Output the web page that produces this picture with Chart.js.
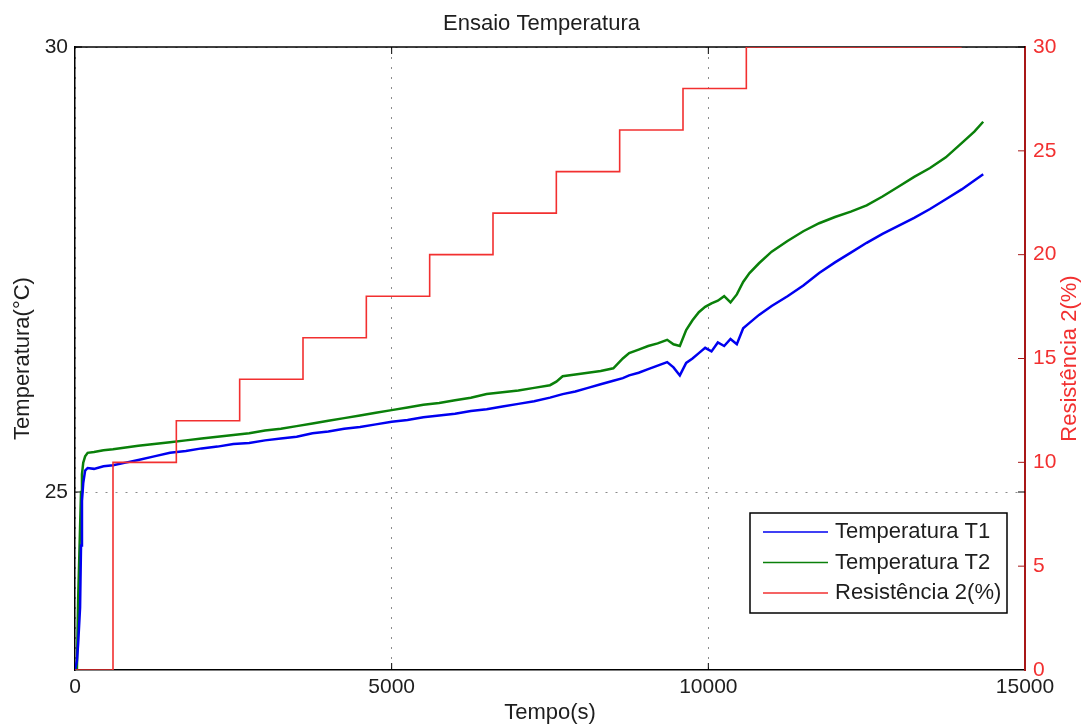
<!DOCTYPE html>
<html>
<head>
<meta charset="utf-8">
<title>Ensaio Temperatura</title>
<script src="https://cdn.jsdelivr.net/npm/chart.js@4"></script>
<style>
  html, body { margin: 0; padding: 0; background: #fff; }
  #wrap { width: 1083px; height: 726px; }
</style>
</head>
<body>
<div id="wrap"><canvas id="ensaioChart" width="1083" height="726"></canvas></div>
<script>
// Tempo de ensaio (s), comum as duas leituras de temperatura
const tempo = [0, 30, 50, 80, 95, 110, 130, 160, 200, 300, 450, 600, 800, 1000, 1250, 1500, 1750,
  2000, 2250, 2500, 2750, 3000, 3250, 3500, 3750, 4000, 4250, 4500, 4750, 5000, 5250, 5500, 5750,
  6000, 6250, 6500, 6750, 7000, 7250, 7500, 7600, 7700, 7900, 8100, 8300, 8500, 8650, 8750, 8900,
  9050, 9200, 9350, 9450, 9550, 9650, 9750, 9850, 9950, 10050, 10150, 10250, 10350, 10450, 10550,
  10650, 10800, 11000, 11250, 11500, 11750, 12000, 12250, 12500, 12750, 13000, 13250, 13500,
  13750, 14000, 14200, 14340];

const temperaturaT1 = [23.0, 23.1, 23.3, 23.7, 24.4, 24.9, 25.1, 25.24, 25.27, 25.26, 25.29, 25.30,
  25.33, 25.36, 25.40, 25.44, 25.46, 25.49, 25.51, 25.54, 25.55, 25.58, 25.60, 25.62, 25.66, 25.68,
  25.71, 25.73, 25.76, 25.79, 25.81, 25.84, 25.86, 25.88, 25.91, 25.93, 25.96, 25.99, 26.02, 26.06,
  26.08, 26.10, 26.13, 26.17, 26.21, 26.25, 26.28, 26.31, 26.34, 26.38, 26.42, 26.46, 26.40, 26.31,
  26.45, 26.50, 26.56, 26.62, 26.58, 26.68, 26.64, 26.72, 26.66, 26.84, 26.90, 26.99, 27.09, 27.20,
  27.32, 27.46, 27.58, 27.69, 27.80, 27.90, 27.99, 28.08, 28.18, 28.29, 28.40, 28.50, 28.57];

const temperaturaT2 = [23.0, 23.0, 23.8, 24.6, 25.0, 25.2, 25.33, 25.40, 25.44, 25.45, 25.47, 25.48,
  25.50, 25.52, 25.54, 25.56, 25.58, 25.60, 25.62, 25.64, 25.66, 25.69, 25.71, 25.74, 25.77, 25.80,
  25.83, 25.86, 25.89, 25.92, 25.95, 25.98, 26.00, 26.03, 26.06, 26.10, 26.12, 26.14, 26.17, 26.20,
  26.24, 26.30, 26.32, 26.34, 26.36, 26.39, 26.50, 26.56, 26.60, 26.64, 26.67, 26.71, 26.66, 26.64,
  26.82, 26.93, 27.02, 27.08, 27.12, 27.15, 27.20, 27.13, 27.22, 27.36, 27.46, 27.57, 27.70, 27.82,
  27.93, 28.02, 28.09, 28.15, 28.22, 28.32, 28.43, 28.54, 28.64, 28.76, 28.92, 29.05, 29.16];

// Degraus da resistencia 2 (%)
const tempoResistencia = [0, 600, 1600, 2600, 3600, 4600, 5600, 6600, 7600, 8600, 9600, 10600, 14000];
const resistencia2 = [0, 10, 12, 14, 16, 18, 20, 22, 24, 26, 28, 30, 30];

const ticksTempo = [0, 5000, 10000, 15000];
const ticksTemperatura = [25, 30];
const ticksResistencia = [0, 5, 10, 15, 20, 25, 30];

const pares = (xs, ys) => xs.map((x, i) => ({ x: x, y: ys[i] }));

const FONTE = "'Liberation Sans', Arial, Helvetica, sans-serif";
const TEXTO = '#1e1e1e';
const VERMELHO = '#f23030';
const EIXO_VERMELHO = '#a81818';

Chart.defaults.font.family = FONTE;
Chart.defaults.color = TEXTO;

// moldura superior e marcas de escala voltadas para dentro (estilo MATLAB)
const moldura = {
  id: 'moldura',
  beforeDatasetsDraw(chart) {
    const { ctx, chartArea: a, scales } = chart;
    const len = 7;
    ctx.save();
    ctx.strokeStyle = '#000';
    ctx.lineWidth = 1.5;
    ctx.beginPath();
    ctx.moveTo(a.left, a.top);
    ctx.lineTo(a.right, a.top);
    ctx.stroke();

    ctx.lineWidth = 1;
    ctx.beginPath();
    ticksTempo.slice(1, -1).forEach(v => {
      const x = scales.x.getPixelForValue(v);
      ctx.moveTo(x, a.bottom); ctx.lineTo(x, a.bottom - len);
      ctx.moveTo(x, a.top); ctx.lineTo(x, a.top + len);
    });
    ticksTemperatura.forEach(v => {
      const y = scales.y.getPixelForValue(v);
      ctx.moveTo(a.left, y); ctx.lineTo(a.left + len, y);
      ctx.moveTo(a.right, y); ctx.lineTo(a.right - len, y);
    });
    ctx.stroke();

    ctx.strokeStyle = EIXO_VERMELHO;
    ctx.beginPath();
    ticksResistencia.slice(1, -1).forEach(v => {
      const y = scales.y2.getPixelForValue(v);
      ctx.moveTo(a.right, y); ctx.lineTo(a.right - len, y);
    });
    ctx.stroke();
    ctx.restore();
  },
  afterDraw(chart) {
    // rotulo do eixo direito, lido de baixo para cima
    const { ctx, chartArea: a } = chart;
    ctx.save();
    ctx.translate(1069.5, (a.top + a.bottom) / 2);
    ctx.rotate(-Math.PI / 2);
    ctx.font = '22px ' + FONTE;
    ctx.fillStyle = VERMELHO;
    ctx.textAlign = 'center';
    ctx.textBaseline = 'middle';
    ctx.fillText('Resistência 2(%)', 0, 0);
    ctx.restore();
  }
};

// legenda dentro da area do grafico, canto inferior direito
const legendaInterna = {
  id: 'legendaInterna',
  afterDraw(chart) {
    const { ctx } = chart;
    const box = { x: 750, y: 513, w: 257, h: 100 };
    ctx.save();
    ctx.fillStyle = '#fff';
    ctx.fillRect(box.x, box.y, box.w, box.h);
    ctx.strokeStyle = '#000';
    ctx.lineWidth = 1.5;
    ctx.strokeRect(box.x, box.y, box.w, box.h);
    ctx.font = '22px ' + FONTE;
    ctx.textBaseline = 'middle';
    chart.data.datasets.forEach((ds, i) => {
      const y = box.y + 19 + i * 30.5;
      ctx.strokeStyle = ds.borderColor;
      ctx.lineWidth = 1.5;
      ctx.beginPath();
      ctx.moveTo(763, y);
      ctx.lineTo(828, y);
      ctx.stroke();
      ctx.fillStyle = TEXTO;
      ctx.fillText(ds.label, 835, y);
    });
    ctx.restore();
  }
};

const ctxEnsaio = document.getElementById('ensaioChart').getContext('2d');
new Chart(ctxEnsaio, {
  type: 'line',
  data: {
    datasets: [
      {
        label: 'Temperatura T1',
        data: pares(tempo, temperaturaT1),
        borderColor: '#0000f0',
        borderWidth: 2.5,
        yAxisID: 'y',
        order: 1
      },
      {
        label: 'Temperatura T2',
        data: pares(tempo, temperaturaT2),
        borderColor: '#0a800a',
        borderWidth: 2.5,
        yAxisID: 'y',
        order: 2
      },
      {
        label: 'Resistência 2(%)',
        data: pares(tempoResistencia, resistencia2),
        borderColor: VERMELHO,
        borderWidth: 1.6,
        stepped: true,
        yAxisID: 'y2',
        order: 0
      }
    ]
  },
  options: {
    responsive: false,
    animation: false,
    events: [],
    elements: {
      point: { radius: 0 },
      line: { tension: 0, fill: false }
    },
    layout: { padding: 0 },
    plugins: {
      legend: { display: false },
      tooltip: { enabled: false },
      title: {
        display: true,
        text: 'Ensaio Temperatura',
        color: TEXTO,
        font: { size: 22, weight: 'normal' },
        padding: { top: 11, bottom: 9.6 }
      }
    },
    scales: {
      x: {
        type: 'linear',
        min: 0,
        max: 15000,
        afterFit: s => { s.height = 56; },
        afterBuildTicks: s => { s.ticks = ticksTempo.map(v => ({ value: v })); },
        ticks: {
          font: { size: 21 }, color: TEXTO, padding: 5, maxRotation: 0, autoSkip: false,
          callback: v => String(v)
        },
        grid: { color: '#8a8a8a', lineWidth: 1, drawTicks: false },
        border: { color: '#000', width: 1.5, dash: [2, 8] },
        title: {
          display: true,
          text: 'Tempo(s)',
          color: TEXTO,
          font: { size: 22 },
          padding: { top: 0, bottom: 0 }
        }
      },
      y: {
        position: 'left',
        min: 23,
        max: 30,
        afterFit: s => { s.width = 75; },
        afterBuildTicks: s => { s.ticks = ticksTemperatura.map(v => ({ value: v })); },
        ticks: { font: { size: 21 }, color: TEXTO, padding: 7 },
        grid: { color: '#8a8a8a', lineWidth: 1, drawTicks: false },
        border: { color: '#000', width: 1.5, dash: [2, 8] },
        title: {
          display: true,
          text: 'Temperatura(°C)',
          color: TEXTO,
          font: { size: 22 },
          padding: { top: 10, bottom: 0 }
        }
      },
      y2: {
        position: 'right',
        min: 0,
        max: 30,
        afterFit: s => { s.width = 58; },
        afterBuildTicks: s => { s.ticks = ticksResistencia.map(v => ({ value: v })); },
        ticks: { font: { size: 21 }, color: VERMELHO, padding: 8 },
        grid: { display: false, drawTicks: false },
        border: { color: EIXO_VERMELHO, width: 2 }
      }
    }
  },
  plugins: [moldura, legendaInterna]
});
</script>
</body>
</html>
